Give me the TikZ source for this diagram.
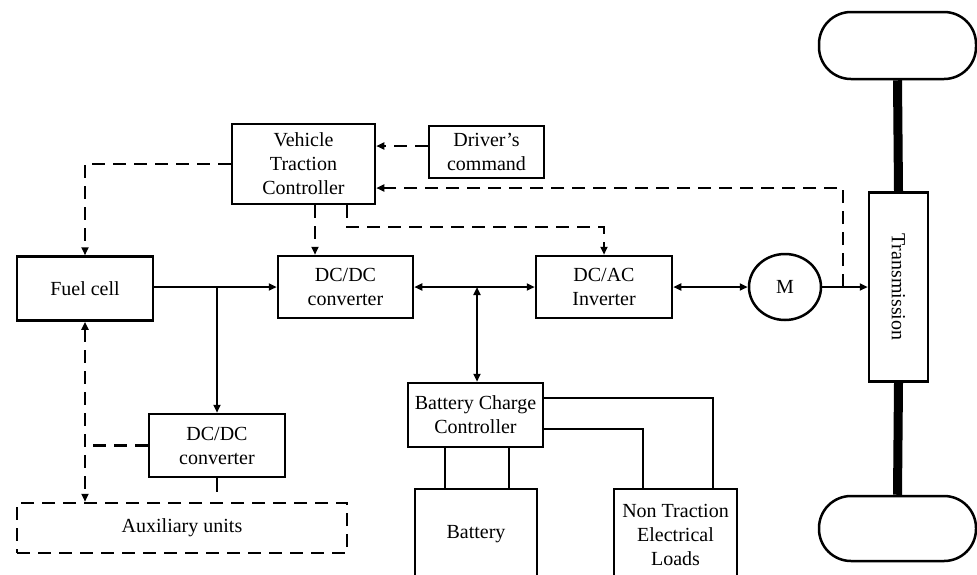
\documentclass[tikz,border=0pt]{standalone}
\usepackage{fontspec}
\usepackage{graphicx}
\setmainfont{Liberation Serif}
\usetikzlibrary{arrows.meta,calc,shapes.geometric}
\begin{document}
\begin{tikzpicture}[x=1pt,y=-1pt,
  txt/.style={font=\fontsize{20}{24}\selectfont},
  box/.style={draw,line width=2.5pt,rectangle,inner sep=0pt,align=center,txt},
  conn/.style={line width=2pt},
  dsh/.style={line width=2.3pt,dash pattern=on 13pt off 8pt},
  tip/.tip={Triangle[length=8pt,width=7pt]},
  arr/.style={-tip},
  darr/.style={tip-tip},
  wheel/.style={draw,line width=2.5pt,rectangle,rounded corners=32pt,minimum width=157pt,inner sep=0pt}
]
\useasboundingbox (0,0) rectangle (977,574);

% nodes
\node[box,minimum width=143pt,minimum height=80pt] (vtc) at (303.5,164) {Vehicle\\Traction\\Controller};
\node[box,minimum width=115pt,minimum height=52pt] (drv) at (486.5,152) {Driver's\\command};
\node[box,minimum width=136pt,minimum height=64pt] (fc) at (85,288.5) {Fuel cell};
\node[box,minimum width=135pt,minimum height=62pt] (dcdc1) at (345.5,287) {DC/DC\\converter};
\node[box,minimum width=136pt,minimum height=62pt] (dcac) at (604,287) {DC/AC\\Inverter};
\node[draw,line width=2.5pt,ellipse,minimum width=72pt,minimum height=66pt,inner sep=0pt,txt] (m) at (785,287) {M};
\node[box,minimum width=59pt,minimum height=189pt] (tr) at (898.5,287) {\rotatebox{-90}{Transmission}};
\node[wheel,minimum height=67pt] (w1) at (897.5,45.5) {};
\node[wheel,minimum height=65pt] (w2) at (897.5,528.5) {};
\node[box,minimum width=136pt,minimum height=63pt] (dcdc2) at (217,445.5) {DC/DC\\converter};
\node[box,dsh,line width=2.5pt,minimum width=330pt,minimum height=50pt] (aux) at (182,528) {Auxiliary units};
\node[box,minimum width=135pt,minimum height=64pt] (bcc) at (475.5,415) {Battery Charge\\Controller};
\node[box,minimum width=122pt,minimum height=91pt] (bat) at (476,534.5) {Battery};
\node[box,minimum width=123pt,minimum height=91pt] (nt) at (675.5,534.5) {Non Traction\\Electrical\\Loads};

% helper coordinates
\coordinate (y146) at (0,146);
\coordinate (y188) at (0,188);
\coordinate (y398) at (0,398);
\coordinate (y429) at (0,429);
\coordinate (x315) at (315,0);
\coordinate (x347) at (347,0);
\coordinate (x445) at (445,0);
\coordinate (x509) at (509,0);
\coordinate (x643) at (643,0);
\coordinate (x713) at (713,0);
\coordinate (c227) at (604,227);
\coordinate (tap) at (843,287);
\coordinate (j1) at (217,287);
\coordinate (j2) at (477,287);
\coordinate (stub) at (217,492);

% dashed control signals
\draw[dsh,arr] (drv.west |- y146) -- (vtc.east |- y146);
\draw[dsh,arr] (vtc.west) -| (fc.north);
\draw[dsh,arr] (vtc.south -| x315) -- (dcdc1.north -| x315);
\draw[dsh,arr] (vtc.south -| x347) |- (c227) -- (dcac.north);
\draw[dsh,arr] (tap) |- (vtc.east |- y188);
\draw[dsh,darr] (fc.south) -- (fc.south |- aux.north);
\draw[dsh] (dcdc2.west) -- (dcdc2.west -| fc.south);

% power flow
\draw[conn,arr] (fc.east |- dcdc1.west) -- (dcdc1.west);
\draw[conn,arr] (j1) -- (dcdc2.north);
\draw[conn] (dcdc2.south) -- (stub);
\draw[conn,darr] (dcdc1.east) -- (dcac.west);
\draw[conn,darr] (j2) -- (j2 |- bcc.north);
\draw[conn,darr] (dcac.east) -- (m.west);
\draw[conn,arr] (m.east) -- (tr.west);

% battery charge controller
\draw[conn] (bcc.east |- y398) -| (nt.north -| x713);
\draw[conn] (bcc.east |- y429) -| (nt.north -| x643);
\draw[conn] (bcc.south -| x445) -- (bat.north -| x445);
\draw[conn] (bcc.south -| x509) -- (bat.north -| x509);

% axles
\draw[line width=9pt] (w1.south) -- (tr.north);
\draw[line width=9pt] (tr.south) -- (w2.north);
\end{tikzpicture}
\end{document}
